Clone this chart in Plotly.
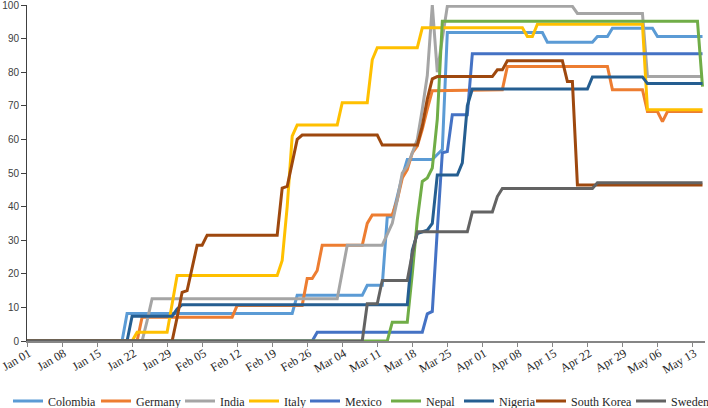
import pandas as pd
import plotly.graph_objects as go

BASE_DATE = "2020-01-01"

# Vertices: (day offset from Jan 01, value)
colombia_days = [0, 19, 20, 53, 54, 67, 68, 71, 72, 73, 74, 75, 76, 81, 82, 83, 84, 103, 104, 113, 114, 116, 117, 125, 126, 135]
colombia_vals = [0, 0, 8.2, 8.2, 13.6, 13.6, 16.6, 16.6, 37, 37, 43, 49, 54, 54, 55.5, 57, 91.8, 91.8, 88.9, 88.9, 90.6, 90.6, 93.1, 93.1, 90.6, 90.6]

germany_days = [0, 22, 23, 41, 42, 55, 56, 57, 58, 59, 67, 68, 69, 73, 74, 75, 76, 77, 78, 79, 80, 81, 95, 96, 116, 117, 123, 124, 126, 127, 128, 135]
germany_vals = [0, 0, 7.1, 7.1, 10.6, 10.6, 18.6, 18.6, 21, 28.5, 28.5, 35, 37.5, 37.5, 42, 48.5, 51, 56, 58, 63, 69, 74.5, 74.8, 81.7, 81.7, 74.8, 74.8, 68.3, 68.3, 65.3, 68.3, 68.3]

india_days = [0, 23, 24, 25, 62, 63, 64, 71, 72, 73, 74, 75, 76, 77, 78, 79, 80, 81, 82, 83, 84, 109, 110, 123, 124, 135]
india_vals = [0, 0, 6, 12.6, 12.6, 20.5, 28.5, 28.5, 32, 35, 42, 50, 52, 56, 60, 69, 79, 100, 80, 90, 99.6, 99.6, 97.5, 97.5, 78.7, 78.7]

italy_days = [0, 21, 22, 28, 29, 30, 50, 51, 52, 53, 54, 62, 63, 68, 69, 70, 78, 79, 99, 100, 101, 102, 123, 124, 135]
italy_vals = [0, 0, 2.6, 2.6, 11, 19.5, 19.5, 24, 40, 61, 64.3, 64.3, 70.9, 70.9, 83.7, 87.3, 87.3, 93.2, 93.2, 90.6, 90.6, 94.3, 94.3, 68.8, 68.8]

mexico_days = [0, 57, 58, 79, 80, 81, 82, 83, 84, 85, 88, 89, 135]
mexico_vals = [0, 0, 2.6, 2.6, 8.1, 8.8, 33, 56, 56.4, 67.3, 67.3, 85.5, 85.5]

nepal_days = [0, 72, 73, 76, 77, 78, 79, 80, 81, 82, 83, 134, 135]
nepal_vals = [0, 0, 5.6, 5.6, 20, 36, 47.5, 48.5, 51.5, 66, 95.2, 95.2, 75.7]

nigeria_days = [0, 20, 21, 29, 30, 31, 76, 77, 78, 80, 81, 82, 86, 87, 88, 89, 112, 113, 123, 124, 135]
nigeria_vals = [0, 0, 7.4, 7.4, 9.5, 10.8, 10.8, 27, 32, 33, 35, 49.4, 49.4, 53, 70, 75, 75, 78.6, 78.6, 76.6, 76.6]

skorea_days = [0, 29, 30, 31, 32, 33, 34, 35, 36, 50, 51, 52, 53, 54, 55, 70, 71, 78, 79, 80, 81, 82, 93, 94, 95, 96, 107, 108, 109, 110, 135]
skorea_vals = [0, 0, 7, 14.5, 15, 22, 28.5, 28.5, 31.5, 31.5, 45.5, 46, 53, 60, 61.3, 61.3, 58.3, 58.3, 64, 72, 78, 78.7, 78.7, 80.7, 80.7, 83.4, 83.4, 77.2, 77.2, 46.4, 46.4]

sweden_days = [0, 67, 68, 70, 71, 76, 77, 78, 88, 89, 93, 94, 95, 113, 114, 135]
sweden_vals = [0, 0, 11.1, 11.1, 18, 18, 26, 32.5, 32.5, 38.4, 38.4, 43, 45.4, 45.4, 47.1, 47.1]

series = [
    ("Colombia", colombia_days, colombia_vals, "#5B9BD5"),
    ("Germany", germany_days, germany_vals, "#ED7D31"),
    ("India", india_days, india_vals, "#A5A5A5"),
    ("Italy", italy_days, italy_vals, "#FFC000"),
    ("Mexico", mexico_days, mexico_vals, "#4472C4"),
    ("Nepal", nepal_days, nepal_vals, "#70AD47"),
    ("Nigeria", nigeria_days, nigeria_vals, "#255E91"),
    ("South Korea", skorea_days, skorea_vals, "#9E480E"),
    ("Sweden", sweden_days, sweden_vals, "#636363"),
]

# legend swatch left edges (px) as in the reference
legend_swatch_px = [14, 102, 186, 250, 311, 392, 465, 537, 637]

W, H = 708, 408
ML, MR, MT, MB = 27, 3, 5, 67
PW = W - ML - MR
PH = H - MT - MB

base = pd.Timestamp(BASE_DATE)

fig = go.Figure()
legend_layouts = {}
for i, (name, days, vals, color) in enumerate(series):
    xs = [base + pd.Timedelta(days=d) for d in days]
    lname = "legend" if i == 0 else f"legend{i + 1}"
    fig.add_trace(go.Scatter(
        x=xs, y=vals, mode="lines", name=name,
        line=dict(color=color, width=3),
        legend=lname,
    ))
    legend_layouts[lname] = dict(
        orientation="h",
        x=(legend_swatch_px[i] - 6 - ML) / PW, xanchor="left",
        y=(MT + PH - 401) / PH, yanchor="middle",
        font=dict(family="Liberation Serif", size=12, color="#262626"),
        itemwidth=30,
        bgcolor="rgba(0,0,0,0)",
    )

fig.update_layout(
    width=W, height=H,
    margin=dict(l=ML, r=MR, t=MT, b=MB, autoexpand=False),
    paper_bgcolor="white", plot_bgcolor="white",
    showlegend=True,
    xaxis=dict(
        type="date",
        range=[base, base + pd.Timedelta(days=135.5)],
        tick0=base, dtick=7 * 86400000, tickformat="%b %d",
        tickangle=-30,
        ticks="outside", ticklen=4, tickcolor="#868686",
        showline=True, linecolor="#868686", linewidth=2,
        showgrid=False, zeroline=False, automargin=False,
        ticklabeloverflow="allow", ticklabelstandoff=-5, ticklabelshift=2,
        tickfont=dict(family="Liberation Serif", size=12, color="#262626"),
    ),
    yaxis=dict(
        range=[0, 100], dtick=10, tick0=0,
        ticks="outside", ticklen=5, tickcolor="#404040",
        showline=True, linecolor="#404040", linewidth=1,
        showgrid=False, zeroline=False, automargin=False,
        ticklabeloverflow="allow",
        tickfont=dict(family="Liberation Sans", size=10, color="#404040"),
    ),
    **legend_layouts,
)

fig.write_html(
    "out.html",
    config={"displayModeBar": False},
    post_script="document.body.style.margin='0';document.body.style.padding='0';",
)
